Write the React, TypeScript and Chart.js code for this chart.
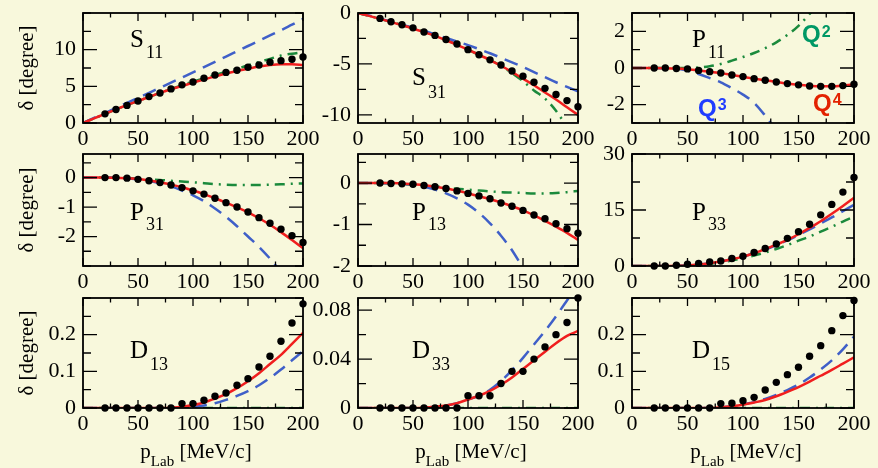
import React, { useEffect, useRef } from "react";
import { Chart, registerables } from "chart.js";
Chart.register(...registerables);

// ---------- data ----------
const XL = [0, 10, 20, 30, 40, 50, 60, 70, 80, 90, 100, 110, 120, 130, 140, 150, 160, 170, 180, 190, 200];
const XD = [20, 30, 40, 50, 60, 70, 80, 90, 100, 110, 120, 130, 140, 150, 160, 170, 180, 190, 200];
const X_TICKS = [0, 50, 100, 150, 200];

const S11_DOTS = [1.25, 1.85, 2.4, 3.0, 3.6, 4.1, 4.65, 5.2, 5.6, 6.1, 6.55, 6.9, 7.2, 7.6, 7.9, 8.3, 8.5, 8.7, 9.0];
const S11_Q2 = [0, 0.62, 1.25, 1.85, 2.45, 3.0, 3.55, 4.1, 4.62, 5.15, 5.65, 6.1, 6.55, 7.0, 7.4, 7.85, 8.3, 8.75, 9.2, 9.45, 9.65];
const S11_Q3 = [0, 0.68, 1.36, 2.05, 2.74, 3.43, 4.12, 4.81, 5.5, 6.2, 6.9, 7.62, 8.34, 9.06, 9.78, 10.5, 11.22, 11.94, 12.66, 13.4, 14.2];
const S11_Q4 = [0, 0.62, 1.25, 1.85, 2.45, 3.0, 3.55, 4.1, 4.6, 5.05, 5.5, 5.95, 6.35, 6.75, 7.1, 7.4, 7.7, 7.9, 8.0, 8.0, 7.9];
const S11_TICKS = [0, 5, 10];

const S31_DOTS = [-0.53, -0.86, -1.16, -1.46, -1.86, -2.2, -2.6, -3.05, -3.6, -4.1, -4.6, -5.1, -5.7, -6.2, -6.8, -7.4, -8.0, -8.6, -9.2];
const S31_Q2 = [0, -0.28, -0.58, -0.88, -1.18, -1.5, -1.85, -2.22, -2.65, -3.1, -3.6, -4.1, -4.6, -5.2, -5.9, -6.7, -7.6, -8.4, -9.6, -11.2, null];
const S31_Q3 = [0, -0.25, -0.55, -0.85, -1.15, -1.45, -1.75, -2.1, -2.45, -2.8, -3.15, -3.55, -3.95, -4.4, -4.85, -5.3, -5.8, -6.3, -6.8, -7.25, -7.7];
const S31_Q4 = [0, -0.28, -0.58, -0.88, -1.2, -1.52, -1.88, -2.25, -2.68, -3.12, -3.6, -4.1, -4.62, -5.18, -5.8, -6.45, -7.1, -7.8, -8.5, -9.25, -10.0];
const S31_TICKS = [0, -5, -10];

const P11_DOTS = [0, 0, -0.03, -0.05, -0.13, -0.2, -0.27, -0.38, -0.47, -0.58, -0.67, -0.76, -0.85, -0.92, -0.98, -1.0, -1.0, -0.96, -0.89];
const P11_Q2 = [0, 0, 0, 0, 0, 0, 0.03, 0.1, 0.22, 0.4, 0.6, 0.82, 1.08, 1.4, 1.8, 2.3, 2.95, 3.7, null, null, null];
const P11_Q3 = [0, 0, 0, -0.01, -0.03, -0.15, -0.33, -0.55, -0.78, -1.1, -1.45, -1.9, -2.6, -3.4, null, null, null, null, null, null, null];
const P11_Q4 = [0, 0, 0, -0.01, -0.03, -0.07, -0.13, -0.2, -0.28, -0.38, -0.48, -0.58, -0.67, -0.76, -0.85, -0.92, -0.97, -1.0, -1.0, -0.96, -0.89];
const P11_TICKS = [-2, 0, 2];

const P31_DOTS = [0, 0, -0.02, -0.06, -0.11, -0.17, -0.25, -0.34, -0.45, -0.56, -0.7, -0.85, -1.0, -1.17, -1.36, -1.55, -1.75, -1.97, -2.2];
const P31_Q2 = [0, 0, 0, -0.01, -0.02, -0.04, -0.06, -0.08, -0.11, -0.13, -0.16, -0.19, -0.22, -0.24, -0.25, -0.25, -0.25, -0.24, -0.23, -0.21, -0.2];
const P31_Q3 = [0, 0, 0, -0.01, -0.03, -0.06, -0.12, -0.2, -0.3, -0.44, -0.6, -0.8, -1.05, -1.33, -1.65, -2.0, -2.35, -2.75, -3.2, null, null];
const P31_Q4 = [0, 0, 0, -0.01, -0.02, -0.05, -0.1, -0.16, -0.24, -0.33, -0.44, -0.56, -0.7, -0.85, -1.01, -1.18, -1.38, -1.6, -1.85, -2.12, -2.4];
const P31_TICKS = [-2, -1, 0];

const P13_DOTS = [0, -0.01, -0.02, -0.03, -0.06, -0.09, -0.13, -0.19, -0.25, -0.31, -0.38, -0.48, -0.56, -0.66, -0.77, -0.86, -0.98, -1.1, -1.21];
const P13_Q2 = [0, 0, 0, -0.01, -0.02, -0.04, -0.06, -0.08, -0.11, -0.14, -0.16, -0.18, -0.2, -0.22, -0.23, -0.24, -0.25, -0.25, -0.24, -0.22, -0.19];
const P13_Q3 = [0, 0, 0, -0.01, -0.02, -0.04, -0.09, -0.16, -0.25, -0.37, -0.52, -0.72, -0.97, -1.27, -1.62, -2.05, null, null, null, null, null];
const P13_Q4 = [0, 0, 0, 0, -0.01, -0.03, -0.05, -0.09, -0.13, -0.18, -0.25, -0.32, -0.39, -0.47, -0.56, -0.66, -0.78, -0.91, -1.05, -1.2, -1.37];
const P13_TICKS = [-2, -1, 0];

const P33_DOTS = [0, 0, 0.2, 0.45, 0.7, 1.1, 1.35, 2.0, 2.6, 3.6, 4.7, 5.9, 7.4, 9.2, 11.2, 13.7, 16.5, 19.8, 23.7];
const P33_Q2 = [0, 0, 0, 0, 0.05, 0.15, 0.3, 0.6, 1.0, 1.5, 2.1, 2.8, 3.6, 4.55, 5.6, 6.8, 7.9, 9.2, 10.5, 11.9, 13.2];
const P33_Q3 = [0, 0, 0, 0, 0.05, 0.15, 0.4, 0.75, 1.2, 1.8, 2.5, 3.4, 4.4, 5.6, 6.9, 8.3, 9.8, 11.4, 13.0, 14.7, 16.4];
const P33_Q4 = [0, 0, 0, 0, 0.05, 0.15, 0.4, 0.75, 1.2, 1.8, 2.5, 3.4, 4.5, 5.7, 7.0, 8.5, 10.2, 12.0, 14.0, 16.1, 18.3];
const P33_TICKS = [0, 15, 30];

const D13_DOTS = [0, 0, 0, 0, 0, 0, 0, 0.012, 0.012, 0.021, 0.032, 0.041, 0.062, 0.08, 0.112, 0.141, 0.182, 0.232, 0.284];
const D13_Q2 = [0, 0, 0, 0, 0, 0, 0, 0, 0, 0, 0, 0, 0, 0, 0, 0, 0, 0, 0, 0, 0];
const D13_Q3 = [0, 0, 0, 0, 0, 0, 0, 0, 0, 0, 0.003, 0.007, 0.013, 0.022, 0.033, 0.046, 0.062, 0.082, 0.105, 0.13, 0.155];
const D13_Q4 = [0, 0, 0, 0, 0, 0, 0, 0, 0.001, 0.003, 0.008, 0.015, 0.026, 0.038, 0.054, 0.073, 0.095, 0.12, 0.145, 0.175, 0.205];
const D13_TICKS = [0, 0.1, 0.2];

const D33_DOTS = [0, 0, 0, 0, 0, 0, 0, 0, 0.01, 0.01, 0.01, 0.02, 0.03, 0.03, 0.04, 0.05, 0.06, 0.07, 0.09];
const D33_Q2 = [0, 0, 0, 0, 0, 0, 0, 0, 0, 0, 0, 0, 0, 0, 0, 0, 0, 0, 0, 0, 0];
const D33_Q3 = [0, 0, 0, 0, 0, 0, 0.0003, 0.001, 0.002, 0.004, 0.007, 0.01, 0.015, 0.022, 0.031, 0.041, 0.052, 0.063, 0.075, 0.088, 0.1];
const D33_Q4 = [0, 0, 0, 0, 0, 0, 0.0003, 0.001, 0.002, 0.004, 0.007, 0.01, 0.014, 0.019, 0.025, 0.032, 0.039, 0.046, 0.053, 0.059, 0.063];
const D33_TICKS = [0, 0.04, 0.08];

const D15_DOTS = [0, 0, 0, 0, 0, 0, 0.012, 0.013, 0.02, 0.029, 0.049, 0.07, 0.091, 0.111, 0.141, 0.17, 0.211, 0.252, 0.293];
const D15_Q2 = [0, 0, 0, 0, 0, 0, 0, 0, 0, 0, 0, 0, 0, 0, 0, 0, 0, 0, 0, 0, 0];
const D15_Q3 = [0, 0, 0, 0, 0, 0, 0, 0, 0.002, 0.005, 0.01, 0.016, 0.025, 0.036, 0.049, 0.064, 0.083, 0.105, 0.13, 0.16, 0.195];
const D15_Q4 = [0, 0, 0, 0, 0, 0, 0, 0, 0.002, 0.005, 0.009, 0.015, 0.022, 0.032, 0.044, 0.057, 0.072, 0.088, 0.104, 0.121, 0.138];
const D15_TICKS = [0, 0.1, 0.2];

// ---------- style ----------
const BG = "#f8f8dc";
const RED = "#f01e1e";
const BLUE = "#3f5fc8";
const GREEN = "#1b8a3c";
const SERIF = "'Liberation Serif', 'Times New Roman', serif";
const SANS = "'Liberation Sans', Arial, sans-serif";

const COL_LEFT = [83, 358, 632];
const COL_W = [220, 220, 222];
const ROW_TOP = [13, 154, 298];
const ROW_H = [110, 112, 110];
const YW = 55;
const XH = 28;

type Panel = {
  letter: string; sub: string; col: number; row: number;
  yMin: number; yMax: number; yMinor: number; yTicks: number[];
  dots: number[]; q2: (number | null)[]; q3: (number | null)[]; q4: (number | null)[];
  lx: number; ly: number; sy: number;
};

const PANELS: Panel[] = [
  { letter: "S", sub: "11", col: 0, row: 0, yMin: 0, yMax: 15, yMinor: 2.5, yTicks: S11_TICKS, dots: S11_DOTS, q2: S11_Q2, q3: S11_Q3, q4: S11_Q4, lx: 47, ly: 34, sy: 45 },
  { letter: "S", sub: "31", col: 1, row: 0, yMin: -10.8, yMax: 0, yMinor: 2.5, yTicks: S31_TICKS, dots: S31_DOTS, q2: S31_Q2, q3: S31_Q3, q4: S31_Q4, lx: 54, ly: 72, sy: 85 },
  { letter: "P", sub: "11", col: 2, row: 0, yMin: -3, yMax: 3, yMinor: 1, yTicks: P11_TICKS, dots: P11_DOTS, q2: P11_Q2, q3: P11_Q3, q4: P11_Q4, lx: 60, ly: 34, sy: 45 },
  { letter: "P", sub: "31", col: 0, row: 1, yMin: -3, yMax: 0.8, yMinor: 0.5, yTicks: P31_TICKS, dots: P31_DOTS, q2: P31_Q2, q3: P31_Q3, q4: P31_Q4, lx: 47, ly: 66, sy: 76 },
  { letter: "P", sub: "13", col: 1, row: 1, yMin: -2, yMax: 0.7, yMinor: 0.5, yTicks: P13_TICKS, dots: P13_DOTS, q2: P13_Q2, q3: P13_Q3, q4: P13_Q4, lx: 54, ly: 66, sy: 76 },
  { letter: "P", sub: "33", col: 2, row: 1, yMin: 0, yMax: 30, yMinor: 7.5, yTicks: P33_TICKS, dots: P33_DOTS, q2: P33_Q2, q3: P33_Q3, q4: P33_Q4, lx: 60, ly: 66, sy: 76 },
  { letter: "D", sub: "13", col: 0, row: 2, yMin: 0, yMax: 0.3, yMinor: 0.05, yTicks: D13_TICKS, dots: D13_DOTS, q2: D13_Q2, q3: D13_Q3, q4: D13_Q4, lx: 47, ly: 60, sy: 72 },
  { letter: "D", sub: "33", col: 1, row: 2, yMin: 0, yMax: 0.09, yMinor: 0.02, yTicks: D33_TICKS, dots: D33_DOTS, q2: D33_Q2, q3: D33_Q3, q4: D33_Q4, lx: 54, ly: 60, sy: 72 },
  { letter: "D", sub: "15", col: 2, row: 2, yMin: 0, yMax: 0.3, yMinor: 0.05, yTicks: D15_TICKS, dots: D15_DOTS, q2: D15_Q2, q3: D15_Q3, q4: D15_Q4, lx: 60, ly: 60, sy: 72 },
];

function geometry(p: Panel) {
  const padL = p.col === 0 ? COL_LEFT[0] : 72;
  const padT = p.row === 0 ? ROW_TOP[0] : 26;
  const padR = 22;
  const padB = p.row === 2 ? 468 - (ROW_TOP[2] + ROW_H[2]) : 32;
  const w = padL + COL_W[p.col] + padR;
  const h = padT + ROW_H[p.row] + padB;
  return { left: COL_LEFT[p.col] - padL, top: ROW_TOP[p.row] - padT, w, h, padL, padT, padR, padB };
}

function makePlugin(p: Panel) {
  return {
    id: "frameText",
    afterDatasetsDraw(chart: any) {
      const { ctx, chartArea: a, scales } = chart;
      const xs = scales.x;
      const ys = scales.y;
      ctx.save();
      ctx.strokeStyle = "#000";
      ctx.lineWidth = 1.3;
      ctx.beginPath();
      for (let i = 0; i <= 8; i++) {
        const px = xs.getPixelForValue(i * 25);
        const len = i % 2 === 0 ? 8 : 4.5;
        ctx.moveTo(px, a.bottom);
        ctx.lineTo(px, a.bottom - len);
        ctx.moveTo(px, a.top);
        ctx.lineTo(px, a.top + len);
      }
      const i0 = Math.ceil(p.yMin / p.yMinor - 1e-6);
      const i1 = Math.floor(p.yMax / p.yMinor + 1e-6);
      for (let i = i0; i <= i1; i++) {
        const v = i * p.yMinor;
        const major = p.yTicks.some((t) => Math.abs(t - v) < p.yMinor * 1e-3);
        const py = ys.getPixelForValue(v);
        const len = major ? 14 : 8;
        ctx.moveTo(a.left, py);
        ctx.lineTo(a.left + len, py);
        ctx.moveTo(a.right, py);
        ctx.lineTo(a.right - len, py);
      }
      ctx.stroke();
      ctx.lineWidth = 1.8;
      ctx.strokeRect(a.left, a.top, a.right - a.left, a.bottom - a.top);

      // panel label
      ctx.fillStyle = "#000";
      ctx.textBaseline = "alphabetic";
      ctx.textAlign = "left";
      ctx.font = `25px ${SERIF}`;
      const lx = a.left + p.lx;
      ctx.fillText(p.letter, lx, a.top + p.ly);
      const lw = ctx.measureText(p.letter).width;
      ctx.font = `18px ${SERIF}`;
      ctx.fillText(p.sub, lx + lw + 2, a.top + p.sy);

      // y title
      if (p.col === 0) {
        ctx.save();
        ctx.translate(a.left - 50.5, (a.top + a.bottom) / 2);
        ctx.rotate(-Math.PI / 2);
        ctx.font = `21px ${SERIF}`;
        ctx.textAlign = "center";
        ctx.fillText("\u03b4 [degree]", 0, 0);
        ctx.restore();
      }
      // x title
      if (p.row === 2) {
        const by = a.bottom + 50;
        ctx.font = `21px ${SERIF}`;
        const w1 = ctx.measureText("p").width;
        const w3 = ctx.measureText(" [MeV/c]").width;
        ctx.font = `15px ${SERIF}`;
        const w2 = ctx.measureText("Lab").width;
        let x = (a.left + a.right) / 2 + 3 - (w1 + w2 + w3) / 2;
        ctx.font = `21px ${SERIF}`;
        ctx.fillText("p", x, by);
        x += w1;
        ctx.font = `15px ${SERIF}`;
        ctx.fillText("Lab", x, by + 8);
        x += w2;
        ctx.font = `21px ${SERIF}`;
        ctx.fillText(" [MeV/c]", x, by);
      }
      // order labels in P11
      if (p.col === 2 && p.row === 0) {
        const q = (dx: number, dy: number, sup: string, color: string) => {
          ctx.fillStyle = color;
          ctx.font = `bold 24px ${SANS}`;
          ctx.fillText("Q", a.left + dx, a.top + dy);
          const qw = ctx.measureText("Q").width;
          ctx.font = `bold 16px ${SANS}`;
          ctx.fillText(sup, a.left + dx + qw + 1, a.top + dy - 5.5);
        };
        q(170, 29, "2", "#009865");
        q(66, 102.5, "3", "#1f3cff");
        q(181, 97.5, "4", "#e32200");
      }
      ctx.restore();
    },
  };
}

function lineSet(ys: (number | null)[], color: string, dash: number[]) {
  const data = XL.map((x, i) => ({ x, y: ys[i] })).filter((d) => d.y !== null && d.y !== undefined);
  return {
    data,
    showLine: true,
    borderColor: color,
    backgroundColor: color,
    borderWidth: 2.5,
    borderDash: dash,
    pointRadius: 0,
    pointHoverRadius: 0,
    cubicInterpolationMode: "monotone" as const,
    fill: false,
  };
}

function PanelChart({ p }: { p: Panel }) {
  const ref = useRef<HTMLCanvasElement | null>(null);
  const g = geometry(p);
  useEffect(() => {
    if (!ref.current) return;
    const tickFont = { family: SERIF, size: 22 };
    const chart = new Chart(ref.current, {
      type: "scatter",
      data: {
        datasets: [
          {
            data: XD.map((x, i) => ({ x, y: p.dots[i] })),
            showLine: false,
            pointRadius: 3.7,
            pointBorderWidth: 0,
            pointBackgroundColor: "#000",
            backgroundColor: "#000",
            borderColor: "#000",
            clip: false,
          } as any,
          lineSet(p.q4, RED, []),
          lineSet(p.q3, BLUE, [14, 8]),
          lineSet(p.q2, GREEN, [10, 6, 2, 6]),
        ],
      },
      options: {
        responsive: false,
        maintainAspectRatio: false,
        animation: false,
        events: [],
        layout: { padding: { left: g.padL - YW, top: g.padT, right: g.padR, bottom: g.padB - XH } },
        plugins: { legend: { display: false }, tooltip: { enabled: false } },
        scales: {
          x: {
            type: "linear",
            min: 0,
            max: 200,
            afterBuildTicks: (s: any) => { s.ticks = X_TICKS.map((v) => ({ value: v })); },
            afterFit: (s: any) => { s.height = XH; s.paddingLeft = 0; s.paddingRight = 0; },
            grid: { display: false, drawTicks: false },
            border: { display: false },
            ticks: { font: tickFont, color: "#000", padding: 3, autoSkip: false, maxRotation: 0, callback: (v: any) => String(v) },
          },
          y: {
            type: "linear",
            min: p.yMin,
            max: p.yMax,
            afterBuildTicks: (s: any) => { s.ticks = p.yTicks.map((v) => ({ value: v })); },
            afterFit: (s: any) => { s.width = YW; s.paddingTop = 0; s.paddingBottom = 0; },
            grid: { display: false, drawTicks: false },
            border: { display: false },
            ticks: { font: tickFont, color: "#000", padding: 7, autoSkip: false, callback: (v: any) => String(v) },
          },
        },
      } as any,
      plugins: [makePlugin(p)],
    });
    return () => chart.destroy();
  }, []);
  return (
    <canvas
      ref={ref}
      width={g.w}
      height={g.h}
      style={{ position: "absolute", left: g.left, top: g.top, width: g.w, height: g.h }}
    />
  );
}

export default function App() {
  return (
    <div style={{ position: "fixed", left: 0, top: 0, width: 878, height: 468, background: BG, overflow: "hidden" }}>
      {PANELS.map((p, i) => (
        <PanelChart key={i} p={p} />
      ))}
    </div>
  );
}
